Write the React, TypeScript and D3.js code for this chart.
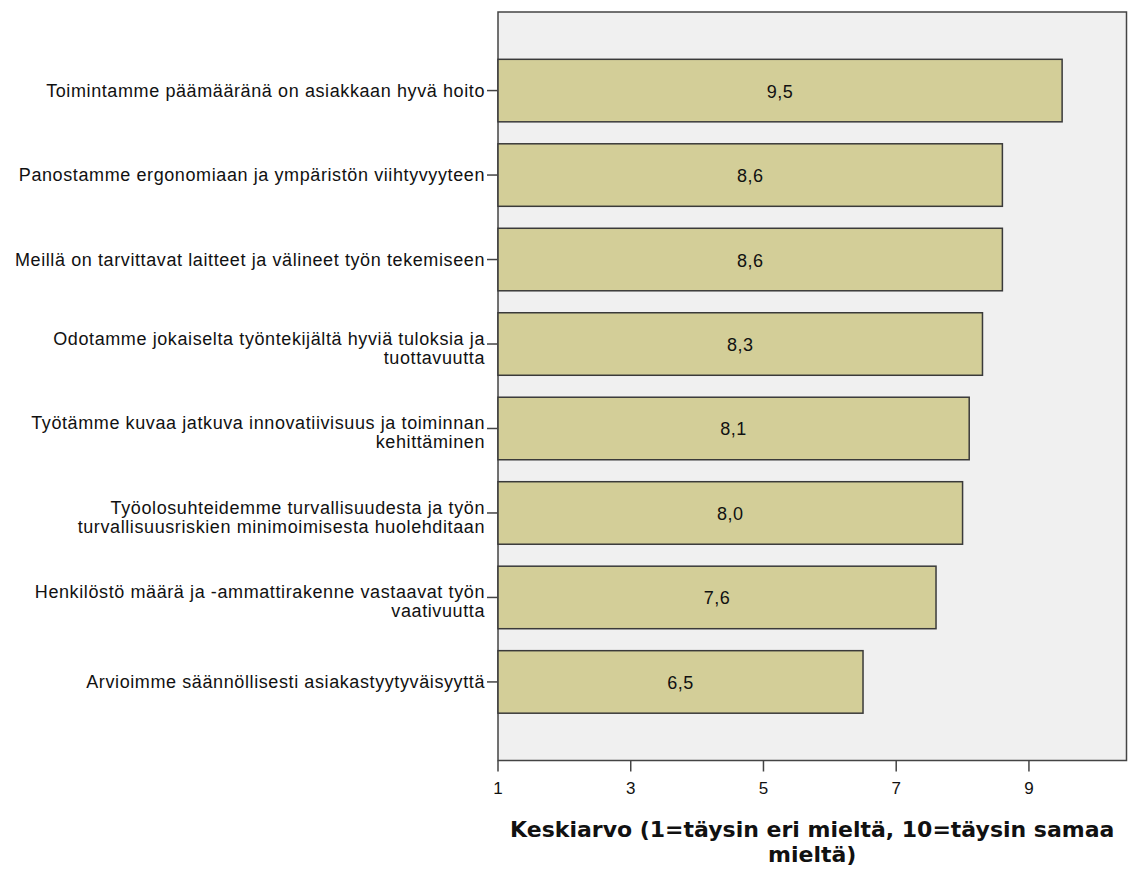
import React from "react";
import * as d3 from "d3";

const categories: string[][] = [
  ["Toimintamme päämääränä on asiakkaan hyvä hoito"],
  ["Panostamme ergonomiaan ja ympäristön viihtyvyyteen"],
  ["Meillä on tarvittavat laitteet ja välineet työn tekemiseen"],
  ["Odotamme jokaiselta työntekijältä hyviä tuloksia ja", "tuottavuutta"],
  ["Työtämme kuvaa jatkuva innovatiivisuus ja toiminnan", "kehittäminen"],
  ["Työolosuhteidemme turvallisuudesta ja työn", "turvallisuusriskien minimoimisesta huolehditaan"],
  ["Henkilöstö määrä ja -ammattirakenne vastaavat työn", "vaativuutta"],
  ["Arvioimme säännöllisesti asiakastyytyväisyyttä"],
];
const values: number[] = [9.5, 8.6, 8.6, 8.3, 8.1, 8.0, 7.6, 6.5];
const xTicks: number[] = [1, 3, 5, 7, 9];
const xTitle: string[] = ["Keskiarvo (1=täysin eri mieltä, 10=täysin samaa", "mieltä)"];

const W = 1128;
const H = 869;
const plotLeft = 498;
const plotRight = 1126.5;
const plotTop = 12;
const plotBottom = 760.5;

export default function App() {
  const x = d3.scaleLinear().domain([1, 10.47]).range([plotLeft, plotRight]);
  const ids = categories.map((_, i) => String(i));
  const y = d3
    .scaleBand<string>()
    .domain(ids)
    .range([plotTop, plotBottom])
    .paddingInner(0.26)
    .paddingOuter(0.56);
  const fmt = (v: number) => d3.format(".1f")(v).replace(".", ",");
  const labelFont = "'Liberation Sans', Arial, sans-serif";

  return (
    <div style={{ position: "absolute", left: 0, top: 0 }}>
      <svg width={W} height={H} style={{ display: "block", background: "#fff" }}>
        <rect
          x={plotLeft}
          y={plotTop}
          width={plotRight - plotLeft}
          height={plotBottom - plotTop}
          fill="#f0f0f0"
          stroke="#444"
          strokeWidth={1.5}
        />
        {values.map((v, i) => {
          const y0 = y(ids[i])!;
          const bw = y.bandwidth();
          return (
            <g key={i}>
              <rect
                x={x(1)}
                y={y0}
                width={x(v) - x(1)}
                height={bw}
                fill="#d3ce98"
                stroke="#3a3a3a"
                strokeWidth={1.5}
              />
              <text
                x={(x(1) + x(v)) / 2}
                y={y0 + bw / 2 + 7}
                textAnchor="middle"
                fontFamily={labelFont}
                fontSize={18}
                letterSpacing={0.5}
                fill="#111"
              >
                {fmt(v)}
              </text>
            </g>
          );
        })}
        {categories.map((lines, i) => {
          const c = y(ids[i])! + y.bandwidth() / 2;
          return (
            <g key={i}>
              <line x1={plotLeft - 11} x2={plotLeft} y1={c} y2={c} stroke="#444" strokeWidth={1.5} />
              {lines.map((t, j) => (
                <text
                  key={j}
                  x={plotLeft - 13}
                  y={lines.length === 1 ? c + 6 : c + 1 + j * 19}
                  textAnchor="end"
                  fontFamily={labelFont}
                  fontSize={18}
                  letterSpacing={0.6}
                  fill="#111"
                >
                  {t}
                </text>
              ))}
            </g>
          );
        })}
        {xTicks.map((t) => (
          <g key={t}>
            <line x1={x(t)} x2={x(t)} y1={plotBottom} y2={plotBottom + 11} stroke="#444" strokeWidth={1.5} />
            <text
              x={x(t)}
              y={plotBottom + 33}
              textAnchor="middle"
              fontFamily={labelFont}
              fontSize={17}
              fill="#111"
            >
              {t}
            </text>
          </g>
        ))}
        {xTitle.map((t, j) => (
          <text
            key={j}
            x={(plotLeft + plotRight) / 2}
            y={837 + j * 25}
            textAnchor="middle"
            fontFamily="'DejaVu Sans', Verdana, sans-serif"
            fontWeight="bold"
            fontSize={22}
            fill="#111"
          >
            {t}
          </text>
        ))}
      </svg>
    </div>
  );
}
